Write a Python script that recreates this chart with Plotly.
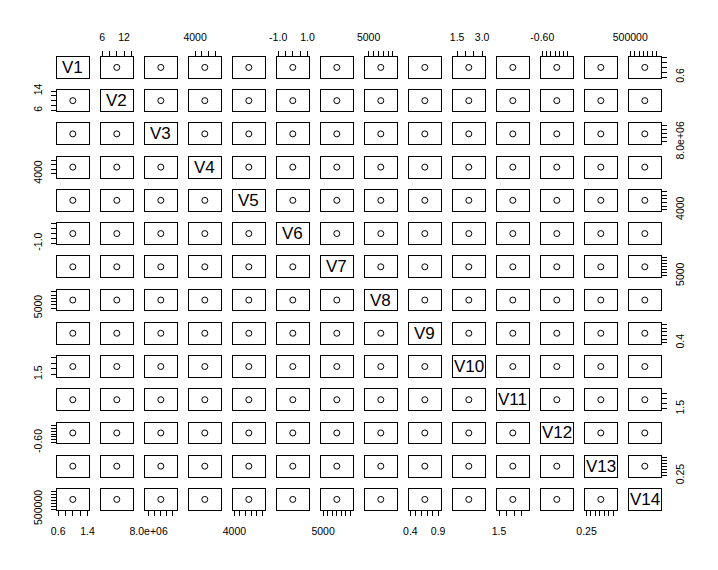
import plotly.graph_objects as go

# ---- data -------------------------------------------------------------
var_names = ["V1", "V2", "V3", "V4", "V5", "V6", "V7",
             "V8", "V9", "V10", "V11", "V12", "V13", "V14"]
values = [1.0, 10.0, 1.2e7, 5450.0, 6600.0, 0.0, 8000.0,
          7500.0, 0.66, 2.2, 2.4, -0.43, 0.41, 830000.0]

tick_values = [
    [0.6, 0.8, 1.0, 1.2, 1.4],
    [6, 8, 10, 12, 14],
    [8e6, 1e7, 1.2e7, 1.4e7, 1.6e7],
    [4000, 5000, 6000, 7000],
    [4000, 5000, 6000, 7000, 8000, 9000],
    [-1.0, -0.5, 0.0, 0.5, 1.0],
    [5000, 6000, 7000, 8000, 9000, 10000, 11000],
    [5000, 6000, 7000, 8000, 9000, 10000],
    [0.4, 0.5, 0.6, 0.7, 0.8, 0.9],
    [1.5, 2.0, 2.5, 3.0],
    [1.5, 2.0, 2.5, 3.0],
    [-0.60, -0.55, -0.50, -0.45, -0.40, -0.35, -0.30],
    [0.25, 0.30, 0.35, 0.40, 0.45, 0.50, 0.55],
    [5e5, 6e5, 7e5, 8e5, 9e5, 1e6, 1.1e6],
]
tick_labels = [
    ["0.6", "0.8", "1.0", "1.2", "1.4"],
    ["6", "8", "10", "12", "14"],
    ["8.0e+06", "1.0e+07", "1.2e+07", "1.4e+07", "1.6e+07"],
    ["4000", "5000", "6000", "7000"],
    ["4000", "5000", "6000", "7000", "8000", "9000"],
    ["-1.0", "-0.5", "0.0", "0.5", "1.0"],
    ["5000", "6000", "7000", "8000", "9000", "10000", "11000"],
    ["5000", "6000", "7000", "8000", "9000", "10000"],
    ["0.4", "0.5", "0.6", "0.7", "0.8", "0.9"],
    ["1.5", "2.0", "2.5", "3.0"],
    ["1.5", "2.0", "2.5", "3.0"],
    ["-0.60", "-0.55", "-0.50", "-0.45", "-0.40", "-0.35", "-0.30"],
    ["0.25", "0.30", "0.35", "0.40", "0.45", "0.50", "0.55"],
    ["500000", "600000", "700000", "800000", "900000", "1000000", "1100000"],
]
# labels that are actually printed on each outer side
shown_top = {1: ["6", "12"], 3: ["4000"], 5: ["-1.0", "1.0"], 7: ["5000"],
             9: ["1.5", "3.0"], 11: ["-0.60"], 13: ["500000"]}
shown_bottom = {0: ["0.6", "1.4"], 2: ["8.0e+06"], 4: ["4000"], 6: ["5000"],
                8: ["0.4", "0.9"], 10: ["1.5"], 12: ["0.25"]}
shown_left = {1: ["6", "14"], 3: ["4000"], 5: ["-1.0"], 7: ["5000"],
              9: ["1.5"], 11: ["-0.60"], 13: ["500000"]}
shown_right = {0: ["0.6"], 2: ["8.0e+06"], 4: ["4000"], 6: ["5000"],
               8: ["0.4"], 10: ["1.5"], 12: ["0.25"]}

# ---- layout geometry --------------------------------------------------
W, H = 718, 570
N = len(var_names)
LEFT0, COLP, PW = 57.0, 44.0, 31.6
TOP0, ROWP, PH = 57.0, 33.23, 20.85
FONT = "Liberation Sans, Arial, Helvetica, sans-serif"
TICKFONT = dict(family=FONT, size=10.5, color="black")


def axis_range(v):
    if v == 0:
        lo, hi = -1.0, 1.0
    else:
        d = 0.4 * abs(v)
        lo, hi = v - d, v + d
    e = 0.04 * (hi - lo)
    return [lo - e, hi + e]


def tick_settings(i, shown):
    txt = [t if t in shown else "" for t in tick_labels[i]]
    return dict(ticks="outside", tickvals=tick_values[i], ticktext=txt,
                ticklen=5, tickwidth=1, tickcolor="black",
                showticklabels=True, tickfont=TICKFONT)


fig = go.Figure()
layout = dict(width=W, height=H, margin=dict(l=0, r=0, t=0, b=0),
              paper_bgcolor="white", plot_bgcolor="white",
              showlegend=False, annotations=[])

for r in range(N):
    for c in range(N):
        k = r * N + c + 1
        sfx = "" if k == 1 else str(k)
        x0 = LEFT0 + c * COLP
        y0 = TOP0 + r * ROWP
        xa = dict(domain=[x0 / W, (x0 + PW) / W], range=axis_range(values[c]),
                  anchor="y" + sfx, showgrid=False, zeroline=False,
                  showline=True, mirror=True, linecolor="black", linewidth=1,
                  ticks="", showticklabels=False, automargin=False,
                  fixedrange=True)
        ya = dict(domain=[1 - (y0 + PH) / H, 1 - y0 / H],
                  range=axis_range(values[r]),
                  anchor="x" + sfx, showgrid=False, zeroline=False,
                  showline=True, mirror=True, linecolor="black", linewidth=1,
                  ticks="", showticklabels=False, automargin=False,
                  fixedrange=True)
        if r == 0 and c in shown_top:
            xa.update(tick_settings(c, shown_top[c]), side="top",
                      ticklabelstandoff=6)
        if r == N - 1 and c in shown_bottom:
            xa.update(tick_settings(c, shown_bottom[c]), side="bottom",
                      ticklabelstandoff=7)
        if c == 0 and r in shown_left:
            ya.update(tick_settings(r, shown_left[r]), side="left",
                      tickangle=-90, ticklabelstandoff=5)
        if c == N - 1 and r in shown_right:
            ya.update(tick_settings(r, shown_right[r]), side="right",
                      tickangle=-90, ticklabelstandoff=5)
        layout["xaxis" + sfx] = xa
        layout["yaxis" + sfx] = ya
        if r == c:
            # empty trace so the diagonal panel (box + label) is created
            fig.add_trace(go.Scatter(
                x=[None], y=[None], mode="markers",
                xaxis="x" + sfx, yaxis="y" + sfx, hoverinfo="skip"))
            layout["annotations"].append(dict(
                text=var_names[r], xref="x" + sfx + " domain",
                yref="y" + sfx + " domain", x=0.5, y=0.5,
                showarrow=False, font=dict(family=FONT, size=17, color="black")))
        else:
            fig.add_trace(go.Scatter(
                x=[values[c]], y=[values[r]], mode="markers",
                xaxis="x" + sfx, yaxis="y" + sfx, hoverinfo="skip",
                marker=dict(symbol="circle-open", size=6,
                            color="black", line=dict(width=1, color="black"))))

fig.update_layout(**layout)
fig.write_html("out.html")
